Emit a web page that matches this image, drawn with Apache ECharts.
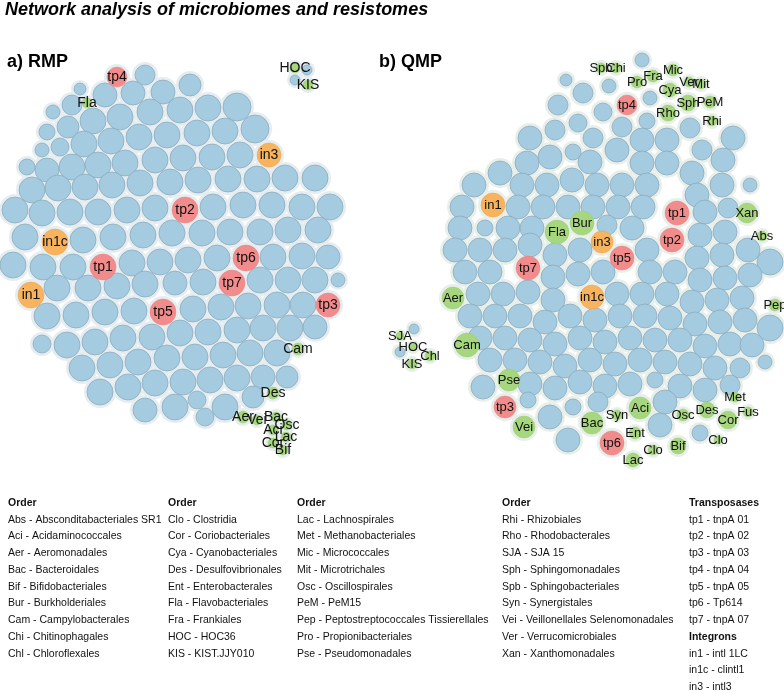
<!DOCTYPE html>
<html><head><meta charset="utf-8">
<script src="https://cdn.jsdelivr.net/npm/echarts@6/dist/echarts.min.js"></script>
<style>html,body{margin:0;padding:0;background:#fff}#c{width:784px;height:694px}</style>
</head><body><div id="c"></div>
<script>
// ---------- DATA (layout coordinates: x, y, radius) ----------
const rmpBlue = [
[145,75,10],[80,89,6],[105,95,12],[133,93,12],[163,92,12],[190,85,11],
[53,112,7],[72,105,10],[93,121,13],[120,117,13],[150,112,13],[180,110,13],[208,108,13],[237,107,14],
[47,132,8],[68,127,11],[42,150,7],[60,147,9],[84,144,13],[111,141,13],[139,137,13],[167,135,13],[197,133,13],[225,131,13],[255,129,14],
[27,167,8],[47,170,12],[72,167,13],[98,165,13],[125,163,13],[155,160,13],[183,158,13],[212,157,13],[240,155,13],[285,178,13],[315,178,13],
[32,190,13],[58,188,13],[85,187,13],[112,185,13],[140,183,13],[170,182,13],[198,180,13],[228,179,13],[257,179,13],
[15,210,13],[42,213,13],[70,212,13],[98,212,13],[127,210,13],[155,208,13],[213,207,13],[243,205,13],[272,205,13],[302,207,13],[330,207,13],
[25,237,13],[83,240,13],[113,237,13],[143,235,13],[172,233,13],[202,233,13],[230,232,13],[260,232,13],[288,230,13],[318,230,13],
[13,265,13],[43,267,13],[73,267,13],[132,263,13],[160,262,13],[188,260,13],[217,258,13],[273,257,13],[302,256,13],[328,257,12],
[57,288,13],[88,288,13],[117,286,13],[145,284,13],[175,283,12],[203,282,13],[260,280,13],[288,280,13],[315,280,13],[338,280,7],
[47,316,13],[76,315,13],[105,312,13],[134,311,13],[193,309,13],[221,307,13],[248,306,13],[277,305,13],[303,305,13],
[42,344,9],[67,345,13],[95,342,13],[123,338,13],[152,337,13],[180,333,13],[208,332,13],[237,330,13],[263,328,13],[290,328,13],[315,327,12],
[82,368,13],[110,365,13],[138,362,13],[167,358,13],[195,357,13],[223,355,13],[250,353,13],[277,353,13],
[100,392,13],[128,387,13],[155,383,13],[183,382,13],[210,380,13],[237,378,13],[263,377,12],[287,377,11],
[145,410,12],[175,407,13],[197,400,9],[225,407,13],[253,397,11],[205,417,9],
[307,70,5],[295,80,5]
];
// [name, group, x, y, radius]
const rmpMarked = [
['tp4','tp',117,77,10],['Fla','ord',87,103,5],['in3','in',269,155,12],['tp2','tp',185,210,13],
['in1c','in',55,242,13],['tp1','tp',103,267,13],['tp6','tp',246,258,13],['in1','in',31,295,13],
['tp7','tp',232,283,13],['tp5','tp',163,312,13],['tp3','tp',328,305,12],['Cam','ord',298,349,6],
['Des','ord',273,393,6],['Aer','ord',243,417,6],['Vei','ord',257,420,5],['Bac','ord',276,417,5],
['Osc','ord',287,425,5],['Aci','ord',273,430,5],['Lac','ord',286,437,5],['Cor','ord',273,443,5],
['Bif','ord',283,450,5],['HOC','ord',295,68,5],['KIS','ord',308,85,5]
];
const qmpBlue = [
[642,60,7],[566,80,6],[583,93,10],[609,86,7],[650,98,7],[558,105,10],[603,112,9],[578,123,9],[647,121,8],[622,127,10],[690,128,10],
[530,138,12],[555,130,10],[593,138,10],[642,140,12],[667,140,12],[733,138,12],[573,152,8],[550,157,12],[617,150,12],[702,150,10],
[500,173,12],[527,163,12],[590,162,12],[642,163,12],[667,163,12],[723,160,12],[692,173,12],
[474,185,12],[522,185,12],[547,185,12],[572,180,12],[597,185,12],[622,185,12],[647,185,12],[697,195,12],[722,185,12],[750,185,7],
[462,207,12],[518,207,12],[543,207,12],[568,207,12],[593,207,12],[618,207,12],[643,207,12],[705,212,12],[728,208,10],
[460,228,12],[485,228,8],[508,228,12],[532,228,12],[607,225,10],[632,228,12],[700,235,12],[725,232,12],
[455,250,12],[480,250,12],[505,250,12],[530,245,12],[555,255,12],[580,250,12],[647,250,12],[697,258,12],[722,255,12],[748,250,12],[770,262,13],
[465,272,12],[490,272,12],[553,277,12],[578,274,12],[603,272,12],[650,272,12],[675,272,12],[700,280,12],[725,278,12],[750,275,12],
[478,294,12],[503,294,12],[528,292,12],[553,300,12],[617,294,12],[642,294,12],[667,294,12],[692,302,12],[717,300,12],[742,298,12],
[470,316,12],[495,316,12],[520,316,12],[545,322,12],[570,316,12],[595,320,12],[620,316,12],[645,316,12],[670,318,12],[695,324,12],[720,322,12],[745,320,12],[770,328,13],
[480,338,12],[505,338,12],[530,340,12],[555,344,12],[580,338,12],[605,342,12],[630,338,12],[655,340,12],[680,340,12],[705,346,12],[730,344,12],[752,345,12],
[490,360,12],[515,360,12],[540,362,12],[565,366,12],[590,360,12],[615,364,12],[640,360,12],[665,362,12],[690,364,12],[715,368,12],[740,368,10],[765,362,7],
[483,387,12],[530,384,12],[555,388,12],[580,382,12],[605,386,12],[630,384,12],[655,380,8],[680,386,12],[705,390,12],[730,385,10],
[528,400,8],[573,407,8],[598,402,10],[665,402,12],
[550,417,12],[660,425,12],[700,433,8],[568,440,12],
[414,329,5],[400,352,5]
];
const qmpMarked = [
['Spb','ord',601,68,5],['Chi','ord',616,68,5],['Pro','ord',637,82,6],['Fra','ord',653,76,6],['Mic','ord',673,70,6],
['Ver','ord',689,82,5],['Mit','ord',701,84,5],['Cya','ord',670,90,7],['Sph','ord',688,103,8],['PeM','ord',710,102,6],
['Rho','ord',668,113,8],['Rhi','ord',712,121,5],['tp4','tp',627,105,10],
['in1','in',493,205,12],['tp1','tp',677,213,12],['Bur','ord',582,223,12],['Fla','ord',557,232,12],['in3','in',602,242,11],
['tp2','tp',672,240,12],['tp5','tp',622,258,12],['tp7','tp',528,268,12],['in1c','in',592,297,12],
['Xan','ord',747,213,10],['Abs','ord',762,236,5],['Pep','ord',775,305,6],['Aer','ord',453,298,11],['Cam','ord',467,345,12],
['Pse','ord',509,380,11],['tp3','tp',505,407,11],['Vei','ord',524,427,11],['Bac','ord',592,423,11],['Syn','ord',617,415,5],
['Aci','ord',640,408,11],['tp6','tp',612,443,12],['Ent','ord',635,433,6],['Clo','ord',653,450,5],['Lac','ord',633,460,7],
['Bif','ord',678,446,8],['Osc','ord',683,415,6],['Des','ord',707,410,8],['Met','ord',735,397,5],['Cor','ord',728,420,9],
['Fus','ord',748,412,5],['Clo','ord',718,440,4],
['SJA','ord',400,336,4],['HOC','ord',413,347,4],['Chl','ord',430,356,5],['KIS','ord',412,364,5]
];
const legendHeads = ['Order','Order','Order','Order','Transposases'];
const legendCol1 = ['Abs - Absconditabacteriales SR1','Aci - Acidaminococcales','Aer - Aeromonadales','Bac - Bacteroidales','Bif - Bifidobacteriales','Bur - Burkholderiales','Cam - Campylobacterales','Chi - Chitinophagales','Chl - Chloroflexales'];
const legendCol2 = ['Clo - Clostridia','Cor - Coriobacteriales','Cya - Cyanobacteriales','Des - Desulfovibrionales','Ent - Enterobacterales','Fla - Flavobacteriales','Fra - Frankiales','HOC - HOC36','KIS - KIST.JJY010'];
const legendCol3 = ['Lac - Lachnospirales','Met - Methanobacteriales','Mic - Micrococcales','Mit - Microtrichales','Osc - Oscillospirales','PeM - PeM15','Pep - Peptostreptococcales Tissierellales','Pro - Propionibacteriales','Pse - Pseudomonadales'];
const legendCol4 = ['Rhi - Rhizobiales','Rho - Rhodobacterales','SJA - SJA 15','Sph - Sphingomonadales','Spb - Sphingobacteriales','Syn - Synergistales','Vei - Veillonellales Selenomonadales','Ver - Verrucomicrobiales','Xan - Xanthomonadales'];
const legendCol5 = ['tp1 - tnpA 01','tp2 - tnpA 02','tp3 - tnpA 03','tp4 - tnpA 04','tp5 - tnpA 05','tp6 - Tp614','tp7 - tnpA 07'];
const integronHead = 'Integrons';
const legendCol6 = ['in1 - intl 1LC','in1c - clintl1','in3 - intl3'];
const titleText = 'Network analysis of microbiomes and resistomes';
const panelTitles = ['a) RMP','b) QMP'];

// ---------- CHART ----------
const FONT = '"Liberation Sans", Arial, sans-serif';
const colors = {tp:'#f28b8b', in:'#f7b35e', ord:'#a6d77f'};
const blueColor = '#a5cbe0';
const chart = echarts.init(document.getElementById('c'), null, {renderer:'canvas'});

function pts(arr){ return arr.map(p => ({value:[p[0],p[1],p[2]]})); }
function marked(arr, group){ return arr.filter(m=>m[1]===group).map(m => ({name:m[0], value:[m[2],m[3],m[4]]})); }
const sizeFn = v => v[2]*2;

function netSeries(blue, mk, halo, fontSize){
  const all = pts(blue).concat(mk.map(m=>({value:[m[2],m[3],m[4]]})));
  const s = [{
    type:'scatter', silent:true, z:1, data:all,
    symbolSize: v => v[2]*2 + 6,
    itemStyle:{color:halo, opacity:1}
  },{
    type:'scatter', silent:true, z:2, data:pts(blue), symbolSize:sizeFn,
    itemStyle:{color:blueColor, borderColor:'#86a6b8', borderWidth:0.7, opacity:1}
  }];
  ['tp','in','ord'].forEach(g => {
    s.push({
      type:'scatter', silent:true, z:3, data:marked(mk,g), symbolSize:sizeFn,
      itemStyle:{color:colors[g], borderColor: g==='ord'?'#9acb74':(g==='tp'?'#e88080':'#eaa24c'), borderWidth:0.5, opacity:1},
      label:{show:true, position:'inside', formatter:'{b}', color:'#111', fontFamily:FONT, fontSize:fontSize},
      labelLayout:{hideOverlap:false}
    });
  });
  return s;
}

const graphics = [];
graphics.push({type:'text', left:5, top:1, style:{text:titleText, font:'italic bold 18px '+FONT, fill:'#000'}});
graphics.push({type:'text', left:7, top:53, style:{text:panelTitles[0], font:'bold 18px '+FONT, fill:'#000'}});
graphics.push({type:'text', left:379, top:53, style:{text:panelTitles[1], font:'bold 18px '+FONT, fill:'#000'}});
const colX = [8,168,297,502,689];
const cols = [legendCol1,legendCol2,legendCol3,legendCol4,legendCol5];
const y0 = 503, dy = 16.75;
const LF = '10.5px ';
cols.forEach((col,ci) => {
  graphics.push({type:'text', x:colX[ci], y:y0, style:{text:legendHeads[ci], font:'bold '+LF+FONT, fill:'#111', verticalAlign:'middle'}});
  col.forEach((t,i) => graphics.push({type:'text', x:colX[ci], y:y0+dy*(i+1), style:{text:t, font:LF+FONT, fill:'#111', verticalAlign:'middle'}}));
});
graphics.push({type:'text', x:colX[4], y:y0+dy*(legendCol5.length+1), style:{text:integronHead, font:'bold '+LF+FONT, fill:'#111', verticalAlign:'middle'}});
legendCol6.forEach((t,i)=>graphics.push({type:'text', x:colX[4], y:y0+dy*(legendCol5.length+2+i), style:{text:t, font:LF+FONT, fill:'#111', verticalAlign:'middle'}}));

chart.setOption({
  animation:false,
  backgroundColor:'#fff',
  grid:{left:0, top:0, right:0, bottom:0},
  xAxis:{type:'value', min:0, max:784, show:false},
  yAxis:{type:'value', min:0, max:694, inverse:true, show:false},
  series: netSeries(rmpBlue, rmpMarked, '#e6edf1', 14).concat(netSeries(qmpBlue, qmpMarked, '#e8efea', 13)),
  graphic: graphics
});
</script></body></html>
